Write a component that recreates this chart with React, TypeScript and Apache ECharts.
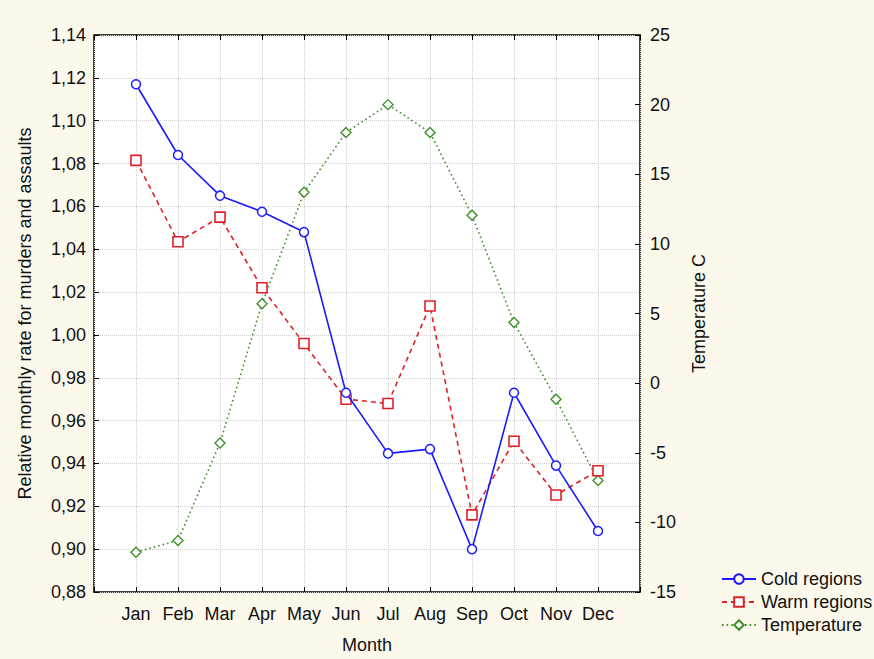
import React, { useEffect, useRef } from "react";
import * as echarts from "echarts";

const months = ["Jan", "Feb", "Mar", "Apr", "May", "Jun", "Jul", "Aug", "Sep", "Oct", "Nov", "Dec"];
const coldRegions = [1.117, 1.084, 1.065, 1.0575, 1.048, 0.973, 0.9447, 0.9467, 0.900, 0.973, 0.939, 0.9085];
const warmRegions = [1.0815, 1.0435, 1.055, 1.022, 0.996, 0.970, 0.968, 1.0135, 0.916, 0.9504, 0.9253, 0.9366];
const temperature = [-12.15, -11.3, -4.3, 5.7, 13.7, 18.0, 20.0, 18.0, 12.05, 4.35, -1.15, -7.0];

const leftTicks = { min: 0.88, max: 1.14, interval: 0.02 };
const rightTicks = { min: -15, max: 25, interval: 5 };

const FONT = "Liberation Sans, Arial, sans-serif";
const BLUE = "#1a1aff";
const RED = "#e02028";
const GREEN = "#3f8f2a";

function toPoints(vals: number[]) {
  return vals.map((v, i) => [i + 1, v]);
}

export default function App() {
  const ref = useRef<HTMLDivElement>(null);
  useEffect(() => {
    if (!ref.current) return;
    const chart = echarts.init(ref.current, undefined, { renderer: "svg" });
    const xBase = {
      type: "value" as const,
      min: 0,
      max: 13,
      interval: 1,
      gridIndex: 0,
    };
    chart.setOption({
      animation: false,
      backgroundColor: "#fcf9ec",
      textStyle: { fontFamily: FONT },
      grid: {
        left: 94,
        top: 35,
        right: 234,
        bottom: 62,
        show: true,
        backgroundColor: "#ffffff",
        borderColor: "#000",
        borderWidth: 1.5,
      },
      legend: {
        orient: "vertical",
        left: 716,
        top: 565,
        itemWidth: 34,
        itemHeight: 12,
        itemGap: 5,
        textStyle: { fontSize: 18, color: "#111", fontFamily: FONT, lineHeight: 18 },
        data: ["Cold regions", "Warm regions", "Temperature"],
      },
      xAxis: [
        {
          ...xBase,
          position: "bottom",
          name: "Month",
          nameLocation: "middle",
          nameGap: 44,
          nameTextStyle: { fontSize: 18, color: "#111", fontFamily: FONT },
          axisLine: { show: false, onZero: false },
          axisTick: { show: true, inside: true, length: 5, lineStyle: { color: "#000" } },
          axisLabel: {
            margin: 13,
            fontSize: 18,
            color: "#111",
            fontFamily: FONT,
            formatter: (v: number) => (v >= 1 && v <= 12 ? months[v - 1] : ""),
          },
          splitLine: { show: true, lineStyle: { color: "#cfcfcf", type: [1, 1], width: 1 } },
        },
        {
          ...xBase,
          position: "top",
          axisLine: { show: false, onZero: false },
          axisTick: { show: true, inside: true, length: 5, lineStyle: { color: "#000" } },
          axisLabel: { show: false },
          splitLine: { show: false },
        },
      ],
      yAxis: [
        {
          type: "value",
          position: "left",
          min: leftTicks.min,
          max: leftTicks.max,
          interval: leftTicks.interval,
          name: "Relative monthly rate for murders and assaults",
          nameLocation: "middle",
          nameRotate: 90,
          nameGap: 60,
          nameTextStyle: { fontSize: 18, color: "#111", fontFamily: FONT },
          axisLine: { show: false, onZero: false },
          axisTick: { show: true, inside: true, length: 5, lineStyle: { color: "#000" } },
          axisLabel: {
            margin: 8,
            fontSize: 18,
            color: "#111",
            fontFamily: FONT,
            formatter: (v: number) => v.toFixed(2).replace(".", ","),
          },
          splitLine: { show: true, lineStyle: { color: "#cfcfcf", type: [1, 1], width: 1 } },
        },
        {
          type: "value",
          position: "right",
          min: rightTicks.min,
          max: rightTicks.max,
          interval: rightTicks.interval,
          name: "Temperature C",
          nameLocation: "middle",
          nameRotate: 90,
          nameGap: 50,
          nameTextStyle: { fontSize: 18, color: "#111", fontFamily: FONT },
          axisLine: { show: false, onZero: false },
          axisTick: { show: true, inside: true, length: 5, lineStyle: { color: "#000" } },
          axisLabel: { margin: 10, fontSize: 18, color: "#111", fontFamily: FONT },
          splitLine: { show: false },
        },
      ],
      series: [
        {
          name: "Cold regions",
          type: "line",
          xAxisIndex: 0,
          yAxisIndex: 0,
          data: toPoints(coldRegions),
          symbol: "circle",
          symbolSize: 9,
          showAllSymbol: true,
          lineStyle: { color: BLUE, width: 1.6, type: "solid" },
          itemStyle: { color: "#ffffff", borderColor: BLUE, borderWidth: 1.5 },
          z: 3,
        },
        {
          name: "Warm regions",
          type: "line",
          xAxisIndex: 0,
          yAxisIndex: 0,
          data: toPoints(warmRegions),
          symbol: "rect",
          symbolSize: 10,
          lineStyle: { color: RED, width: 1.6, type: [5, 4] },
          itemStyle: { color: "#ffffff", borderColor: RED, borderWidth: 1.6 },
          z: 2,
        },
        {
          name: "Temperature",
          type: "line",
          xAxisIndex: 0,
          yAxisIndex: 1,
          data: toPoints(temperature),
          symbol: "diamond",
          symbolSize: 10,
          lineStyle: { color: GREEN, width: 1.6, type: [1.6, 3] },
          itemStyle: { color: "#ffffff", borderColor: GREEN, borderWidth: 1.4 },
          z: 1,
        },
      ],
    });
    return () => chart.dispose();
  }, []);
  return (
    <div
      ref={ref}
      style={{ position: "fixed", left: 0, top: 0, width: 874, height: 659 }}
    />
  );
}
